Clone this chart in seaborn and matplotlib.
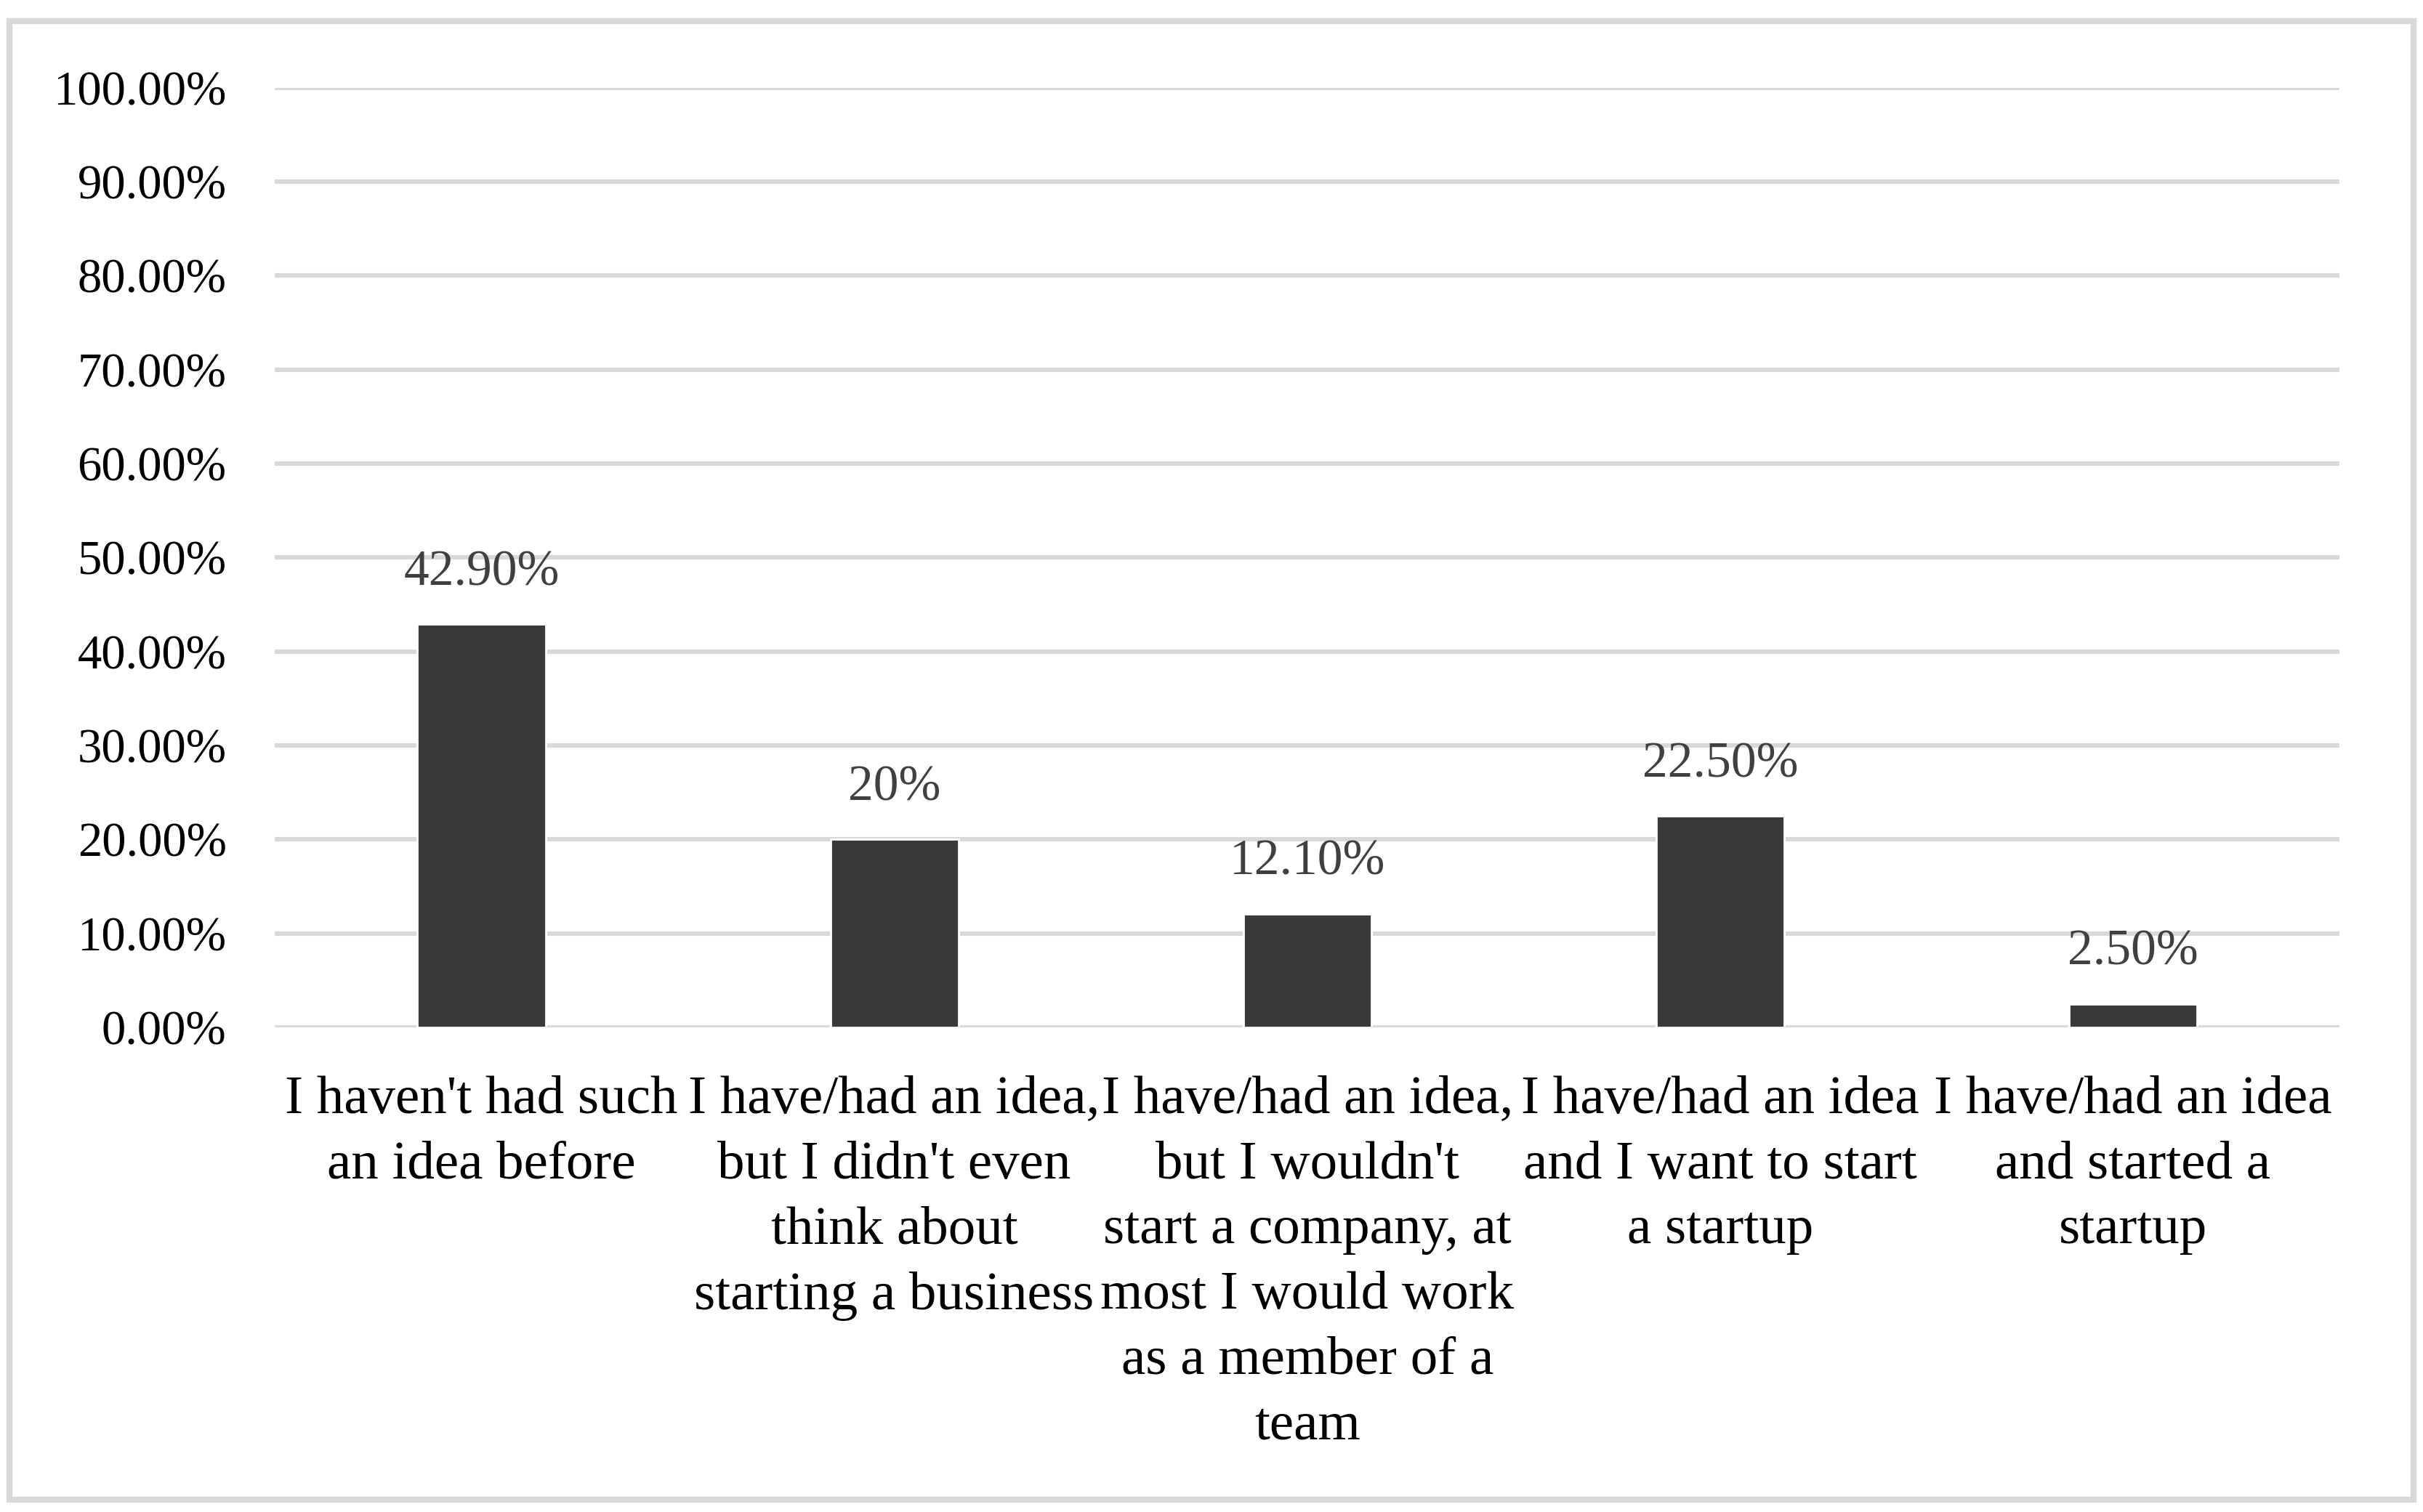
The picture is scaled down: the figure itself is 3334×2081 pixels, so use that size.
import numpy as np
import pandas as pd
import seaborn as sns
import matplotlib.pyplot as plt
from matplotlib.patches import Rectangle

## data
categories = [
    "I haven't had such\nan idea before",
    "I have/had an idea,\nbut I didn't even\nthink about\nstarting a business",
    "I have/had an idea,\nbut I wouldn't\nstart a company, at\nmost I would work\nas a member of a\nteam",
    "I have/had an idea\nand I want to start\na startup",
    "I have/had an idea\nand started a\nstartup",
]
values = [42.9, 20.0, 12.1, 22.5, 2.5]
value_labels = ["42.90%", "20%", "12.10%", "22.50%", "2.50%"]
yticks = [0, 10, 20, 30, 40, 50, 60, 70, 80, 90, 100]

df = pd.DataFrame({"answer": categories, "share": values})

sns.set_style("white")
plt.rcParams['font.family'] = ['Liberation Serif', 'DejaVu Serif']

fig = plt.figure(figsize=(16.67, 10.405), dpi=200)
ax = fig.add_axes([0.1135, 0.3205, 0.852, 0.6215])

sns.barplot(data=df, x="answer", y="share", color="#3a3938", saturation=1,
            width=0.31, ax=ax, zorder=3)

ax.set_ylim(0, 100)
ax.set_xlim(-0.5, len(categories) - 0.5)
ax.set_yticks(yticks)
ax.set_yticklabels([f"{t:.2f}%" for t in yticks])
ax.set_xlabel("")
ax.set_ylabel("")

# gridlines
for t in yticks:
    ax.axhline(t, color="#d9d9d9", lw=2.2, zorder=1)

for s in ax.spines.values():
    s.set_visible(False)

ax.tick_params(axis="y", length=0, pad=24, labelsize=24, labelcolor="black")
ax.tick_params(axis="x", length=0, pad=24, labelsize=27, labelcolor="black")
for lab in ax.get_xticklabels():
    lab.set_linespacing(1.43)

# value labels
for i, (v, txt) in enumerate(zip(values, value_labels)):
    ax.annotate(txt, (i, v), xytext=(0, 14), textcoords="offset points",
                ha="center", va="bottom", fontsize=25, color="#404040")

# outer chart border
fig.patches.append(Rectangle((0.004, 0.008), 0.992, 0.978, transform=fig.transFigure,
                             fill=False, edgecolor="#d9d9d9", lw=3))

fig.savefig("out.png", dpi=200, facecolor="white")
